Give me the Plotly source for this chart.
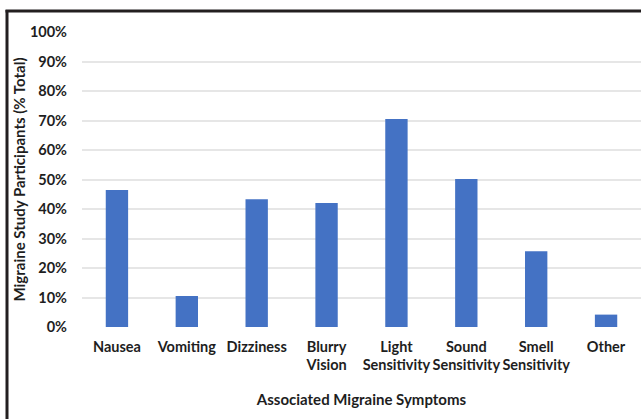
import plotly.graph_objects as go

categories = ["Nausea", "Vomiting", "Dizziness", "Blurry<br>Vision", "Light<br>Sensitivity",
              "Sound<br>Sensitivity", "Smell<br>Sensitivity", "Other"]
values = [0.464, 0.105, 0.433, 0.42, 0.705, 0.502, 0.257, 0.042]
y_ticks = [0, 0.1, 0.2, 0.3, 0.4, 0.5, 0.6, 0.7, 0.8, 0.9, 1.0]
y_tick_labels = ["0%", "10%", "20%", "30%", "40%", "50%", "60%", "70%", "80%", "90%", "100%"]

W, H = 641, 419
L, R, T, B = 82, 0, 32, 92
pw, ph = W - L - R, H - T - B

def px_to_paper_x(px):
    return (px - L) / pw

def px_to_paper_y(py):
    return (H - B - py) / ph

font_family = "Lato, 'Open Sans', sans-serif"
txt = "#1e1e1e"

fig = go.Figure(go.Bar(x=categories, y=values, marker=dict(color="#4472C4", line_width=0), width=0.32))

fig.update_layout(
    width=W, height=H,
    margin=dict(l=L, r=R, t=T, b=B, autoexpand=False),
    paper_bgcolor="white", plot_bgcolor="white",
    showlegend=False,
    font=dict(family=font_family, color=txt),
    xaxis=dict(
        tickfont=dict(size=14.5, weight="bold", color=txt),
        tickangle=0,
        showgrid=False, showline=False, ticks="",
        ticklabelstandoff=9,
        title=dict(text="Associated Migraine Symptoms", font=dict(size=15, weight="bold", color=txt), standoff=22),
    ),
    yaxis=dict(
        range=[0, 1], tickvals=y_ticks, ticktext=y_tick_labels,
        tickfont=dict(size=14.5, weight="bold", color=txt),
        showgrid=True, gridcolor="#e6e6e6", gridwidth=1.5,
        zeroline=False, showline=False, ticks="",
        ticklabelstandoff=14,
        title=dict(text="Migraine Study Participants (% Total)", font=dict(size=15, weight="bold", color=txt), standoff=0),
    ),
    shapes=[
        dict(type="line", xref="paper", yref="paper",
             x0=px_to_paper_x(7), x1=px_to_paper_x(7), y0=px_to_paper_y(10), y1=px_to_paper_y(425),
             line=dict(color="#231f20", width=3)),
        dict(type="line", xref="paper", yref="paper",
             x0=px_to_paper_x(5.5), x1=px_to_paper_x(645), y0=px_to_paper_y(11), y1=px_to_paper_y(11),
             line=dict(color="#231f20", width=3)),
    ],
)

fig.write_html(
    "out.html",
    config={"displayModeBar": False},
    post_script="document.body.style.margin='0';document.body.style.overflow='hidden';",
)
